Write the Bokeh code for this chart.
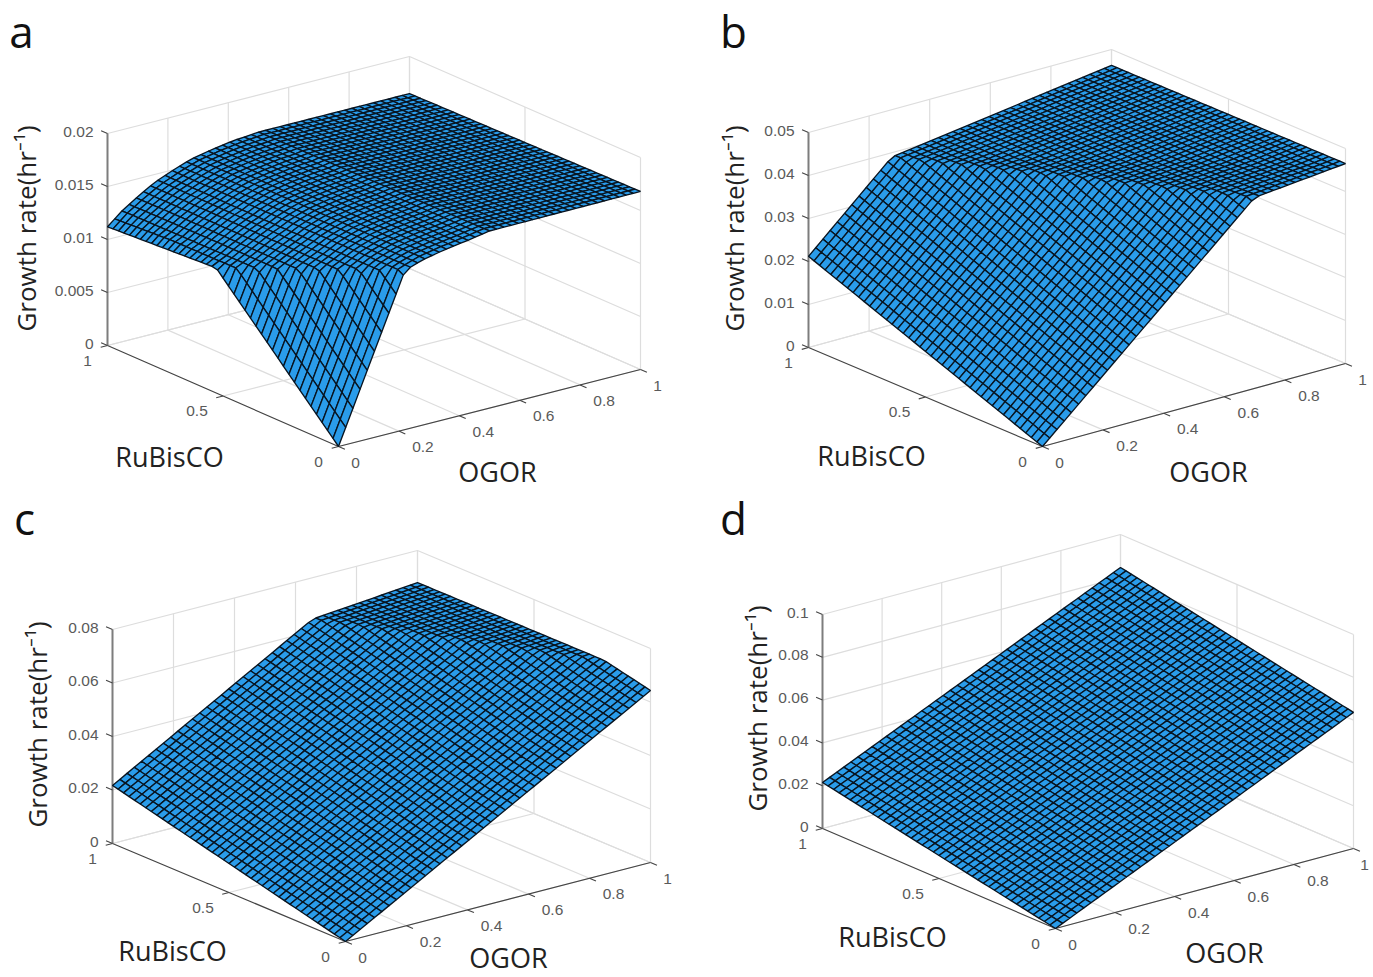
import numpy as np
from bokeh.plotting import figure
from bokeh.models import Range1d
from bokeh.core.properties import value
from bokeh.embed import file_html
from bokeh.resources import INLINE

# ---- tick values and labels ----
ogor_ticks = [0, 0.2, 0.4, 0.6, 0.8, 1]
ogor_labels = ["0", "0.2", "0.4", "0.6", "0.8", "1"]
rubisco_ticks = [0, 0.5, 1]
rubisco_labels = ["0", "0.5", "1"]
a_rate_ticks = [0, 0.005, 0.01, 0.015, 0.02]
a_rate_labels = ["0", "0.005", "0.01", "0.015", "0.02"]
b_rate_ticks = [0, 0.01, 0.02, 0.03, 0.04, 0.05]
b_rate_labels = ["0", "0.01", "0.02", "0.03", "0.04", "0.05"]
c_rate_ticks = [0, 0.02, 0.04, 0.06, 0.08]
c_rate_labels = ["0", "0.02", "0.04", "0.06", "0.08"]
d_rate_ticks = [0, 0.02, 0.04, 0.06, 0.08, 0.1]
d_rate_labels = ["0", "0.02", "0.04", "0.06", "0.08", "0.1"]

# ---- growth-rate surfaces: control points, facets between them ----
a_ogor    = [0,
             0, .05, .11, .16, .22, .28, .35, .42, .5, 1,
             0, .05, .11, .16, .22, .28, .35, .42, .5, 1]
a_rubisco = [0,
             .53, .41, .265, .145, 0, 0, 0, 0, 0, 0,
             1, 1, 1, 1, 1, 1, 1, 1, 1, 1]
a_rate    = [0,
             .0118, .0125, .0134, .0141, .0150, .0156, .0160, .0163, .0167, .0168,
             .0112, .0124, .0135, .0143, .0150, .0156, .0160, .0163, .0165, .0165]
a_facets  = [(0, 1, 2), (0, 2, 3), (0, 3, 4), (0, 4, 5)]
for k in range(9):
    a_facets += [(1+k, 2+k, 12+k), (1+k, 12+k, 11+k)]

b_ogor    = [0, 0, .275, .70, 1, 1]
b_rubisco = [0, 1, 1, 0, 1, 0]
b_rate    = [0, .0212, .0390, .0444, .0463, .0465]
b_facets  = [(0, 1, 2), (0, 2, 3), (2, 3, 5), (2, 5, 4)]

c_ogor    = [0, 0, .656, 1, 1, 1]
c_rubisco = [0, 1, 1, .2, 1, 0]
c_rate    = [0, .0217, .0645, .0683, .0680, .0643]
c_facets  = [(0, 1, 2), (0, 2, 3), (0, 3, 5), (2, 3, 4)]

d_ogor    = [0, 0, 1, 1]
d_rubisco = [0, 1, 1, 0]
d_rate    = [0, .0215, .0846, .0636]
d_facets  = [(0, 1, 2), (0, 2, 3)]

MESH_X, MESH_Y = 42, 42
FILL = "#2a9cea"
MESH = "#081420"
WALL = "#dddddd"
AXIS = "#444444"
TICKTXT = "#5a5a5a"
LABELFONT = "Open Sans"
TICKFONT = "Liberation Sans"

panels = [
    dict(tag="a", letter=(21, 30), origin=(338, 446), xv=(302, -77), yv=(-231, -101), zv=(0, -212),
         ticks=a_rate_ticks, labels=a_rate_labels, s=(a_ogor, a_rubisco, a_rate, a_facets),
         rub=(169, 456), ogor=(497, 471), gr=(25, 228)),
    dict(tag="b", letter=(733, 30), origin=(1042, 446), xv=(303, -83), yv=(-234, -99), zv=(0, -215),
         ticks=b_rate_ticks, labels=b_rate_labels, s=(b_ogor, b_rubisco, b_rate, b_facets),
         rub=(871, 455), ogor=(1208, 471), gr=(733, 228)),
    dict(tag="c", letter=(24, 517), origin=(345, 941), xv=(305, -79), yv=(-233, -98), zv=(0, -214),
         ticks=c_rate_ticks, labels=c_rate_labels, s=(c_ogor, c_rubisco, c_rate, c_facets),
         rub=(172, 950), ogor=(508, 957), gr=(36, 724)),
    dict(tag="d", letter=(733, 517), origin=(1055, 928), xv=(298, -80), yv=(-233, -100), zv=(0, -214),
         ticks=d_rate_ticks, labels=d_rate_labels, s=(d_ogor, d_rubisco, d_rate, d_facets),
         rub=(892, 936), ogor=(1224, 952), gr=(756, 708)),
]

p = figure(width=1373, height=977, x_range=Range1d(0, 1373), y_range=Range1d(977, 0),
           output_backend="svg", toolbar_location=None, min_border=0,
           background_fill_color="white", border_fill_color="white", outline_line_color=None)
p.axis.visible = False
p.grid.visible = False


def surface_grid(ox, oy, oz, facets, gx, gy):
    """Height of the faceted surface at the nodes of the drawn mesh."""
    ox, oy, oz = map(np.asarray, (ox, oy, oz))
    Z = np.zeros((len(gx), len(gy)))
    for i, x in enumerate(gx):
        for j, y in enumerate(gy):
            best, bestm = 0.0, -1e9
            for f in facets:
                a, b, c = f
                det = (oy[b]-oy[c])*(ox[a]-ox[c]) + (ox[c]-ox[b])*(oy[a]-oy[c])
                l1 = ((oy[b]-oy[c])*(x-ox[c]) + (ox[c]-ox[b])*(y-oy[c])) / det
                l2 = ((oy[c]-oy[a])*(x-ox[c]) + (ox[a]-ox[c])*(y-oy[c])) / det
                l3 = 1 - l1 - l2
                m = min(l1, l2, l3)
                if m > bestm:
                    bestm, best = m, l1*oz[a] + l2*oz[b] + l3*oz[c]
            Z[i, j] = best
    return Z


for P in panels:
    O, XV, YV, ZV = map(np.array, (P["origin"], P["xv"], P["yv"], P["zv"]))
    zmax = P["ticks"][-1]

    def pr(x, y, z):
        q = O + x*XV + y*YV + (z/zmax)*ZV
        return float(q[0]), float(q[1])

    def seg(pts, color, width):
        xs = [pr(*t)[0] for t in pts]
        ys = [pr(*t)[1] for t in pts]
        p.line(xs, ys, line_color=color, line_width=width)

    # back walls and floor
    for z in P["ticks"]:
        seg([(0, 1, z), (1, 1, z), (1, 0, z)], WALL, 1.2)
    for x in ogor_ticks[1:]:
        seg([(x, 0, 0), (x, 1, 0), (x, 1, zmax)], WALL, 1.2)
    for y in rubisco_ticks:
        seg([(0, y, 0), (1, y, 0), (1, y, zmax)], WALL, 1.2)

    # axis lines and tick marks
    seg([(0, 1, 0), (0, 0, 0), (1, 0, 0)], AXIS, 1.2)
    seg([(0, 1, 0), (0, 1, zmax)], "#7d7d7d", 2)
    unitx, unity = 7/np.hypot(*XV), 7/np.hypot(*YV)
    for x in ogor_ticks:
        seg([(x, 0, 0), (x, -unity, 0)], AXIS, 1.1)
    for y in rubisco_ticks:
        seg([(0, y, 0), (-unitx, y, 0)], AXIS, 1.1)
    for z in P["ticks"]:
        seg([(0, 1, z), (0, 1+unity, z)], AXIS, 1.1)

    # surface, drawn from the back corner to the front one
    sx, sy, sz, sf = P["s"]
    gx = np.linspace(0, 1, MESH_X+1)
    gy = np.linspace(0, 1, MESH_Y+1)
    Z = surface_grid(sx, sy, sz, sf, gx, gy)
    pxs, pys = [], []
    for i in range(MESH_X-1, -1, -1):
        for j in range(MESH_Y-1, -1, -1):
            cor = [(i, j), (i+1, j), (i+1, j+1), (i, j+1)]
            q = [pr(gx[a], gy[b], Z[a, b]) for a, b in cor]
            pxs.append([c[0] for c in q])
            pys.append([c[1] for c in q])
    p.patches(pxs, pys, fill_color=FILL, line_color=MESH, line_width=1.35)

    # tick labels
    tx, ty, tt = [], [], []
    for v, s in zip(ogor_ticks, ogor_labels):
        a, b = pr(v, 0, 0)
        tx.append(min(a + (17 if v in (0, 1) else 24), 1364)); ty.append(b + 16); tt.append(s)
    for v, s in zip(rubisco_ticks, rubisco_labels):
        a, b = pr(0, v, 0)
        tx.append(a - (26 if v == 0.5 else 20)); ty.append(b + 15); tt.append(s)
    p.text(tx, ty, text=tt, text_font=value(TICKFONT), text_font_size="15.5px",
           text_color=TICKTXT, text_align="center", text_baseline="middle")
    zx, zy, zt = [], [], []
    for v, s in zip(P["ticks"], P["labels"]):
        a, b = pr(0, 1, v)
        zx.append(a - 14); zy.append(b - 2); zt.append(s)
    p.text(zx, zy, text=zt, text_font=value(TICKFONT), text_font_size="15.5px",
           text_color=TICKTXT, text_align="right", text_baseline="middle")

    # titles
    p.text([P["letter"][0]], [P["letter"][1]], text=[P["tag"]], text_font=value(LABELFONT),
           text_font_size="44px", text_color="#111111", text_align="center", text_baseline="middle")
    p.text([P["rub"][0], P["ogor"][0]], [P["rub"][1], P["ogor"][1]], text=["RuBisCO", "OGOR"],
           text_font=value(LABELFONT), text_font_size="27px", text_color="#222222",
           text_align="center", text_baseline="middle")
    p.text([P["gr"][0]], [P["gr"][1]], text=["Growth rate(hr\u207b\u00b9)"], angle=np.pi/2,
           text_font=value(LABELFONT), text_font_size="26px", text_color="#222222",
           text_align="center", text_baseline="middle")

open("out.html", "w").write(file_html(p, INLINE))
